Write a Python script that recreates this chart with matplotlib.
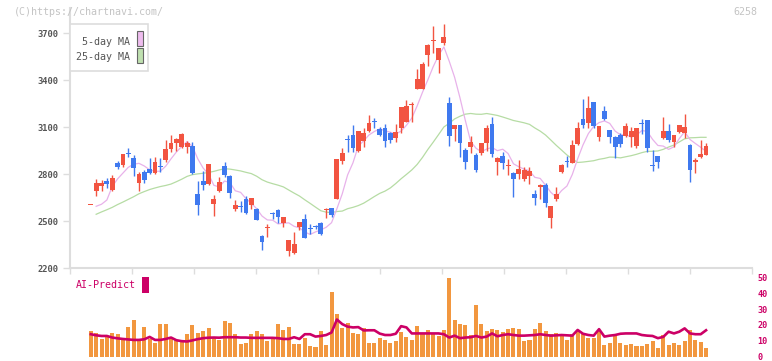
import numpy as np
import pandas as pd
import matplotlib
matplotlib.use("Agg")
import matplotlib.pyplot as plt
from matplotlib.patches import Rectangle

# ---------------- data ----------------
opens = [2600, 2693, 2721, 2755, 2698, 2872, 2859, 2934, 2902, 2744,
         2813, 2832, 2808, 2851, 2889, 2960, 3000, 2974, 2970, 2979,
         2672, 2755, 2736, 2608, 2691, 2851, 2787, 2575, 2596, 2640,
         2602, 2577, 2404, 2458, 2549, 2570, 2489, 2311, 2294, 2460,
         2513, 2455, 2468, 2489, 2570, 2583, 2642, 2883, 3023, 3049,
         2947, 3013, 3074, 3134, 3087, 3092, 3064, 3028, 3096, 3134,
         3238, 3344, 3343, 3560, 3649, 3528, 3638, 3251, 3087, 3113,
         2953, 2974, 2921, 2932, 2996, 3117, 2879, 2917, 2853, 2808,
         2800, 2768, 2789, 2672, 2715, 2732, 2521, 2640, 2811, 2881,
         2872, 2989, 3151, 3128, 3258, 3038, 3202, 3081, 3038, 3049,
         3045, 3038, 2981, 3126, 3145, 2853, 2915, 3032, 3074, 3006,
         3070, 3060, 2985, 2879, 2911, 2921]
highs = [2602, 2768, 2760, 2776, 2792, 2885, 2930, 2968, 2921, 2815,
         2826, 2902, 2908, 2902, 3017, 3049, 3028, 3062, 3010, 3004,
         2755, 2819, 2866, 2666, 2781, 2877, 2794, 2634, 2628, 2660,
         2647, 2583, 2411, 2481, 2558, 2579, 2528, 2381, 2430, 2496,
         2545, 2479, 2474, 2496, 2581, 2583, 2898, 2964, 3049, 3113,
         3077, 3092, 3177, 3156, 3102, 3119, 3070, 3119, 3228, 3272,
         3262, 3470, 3513, 3628, 3745, 3604, 3757, 3294, 3115, 3115,
         2968, 3043, 2936, 2998, 3113, 3166, 2906, 2943, 2894, 2815,
         2889, 2847, 2847, 2698, 2734, 2740, 2598, 2715, 2864, 2915,
         3017, 3134, 3279, 3298, 3260, 3108, 3234, 3083, 3040, 3064,
         3124, 3102, 3096, 3151, 3147, 2953, 2917, 3166, 3119, 3051,
         3115, 3183, 2991, 2900, 3017, 2996]
lows = [2600, 2661, 2693, 2711, 2691, 2830, 2847, 2906, 2787, 2693,
        2744, 2800, 2800, 2813, 2879, 2938, 2949, 2968, 2934, 2798,
        2538, 2698, 2730, 2532, 2685, 2781, 2649, 2566, 2557, 2545,
        2577, 2506, 2315, 2400, 2510, 2489, 2464, 2279, 2289, 2443,
        2394, 2417, 2452, 2411, 2517, 2528, 2640, 2864, 2938, 2938,
        2940, 2974, 3068, 3092, 3043, 2974, 3000, 3002, 3060, 3130,
        3134, 3340, 3340, 3489, 3570, 3447, 3623, 2979, 3013, 2911,
        2834, 2936, 2815, 2921, 2945, 2911, 2794, 2832, 2794, 2655,
        2768, 2757, 2736, 2602, 2640, 2591, 2457, 2630, 2804, 2843,
        2870, 2985, 3092, 3092, 3096, 3013, 3145, 3000, 2904, 2970,
        3038, 2970, 2964, 3055, 2943, 2821, 2840, 3023, 3004, 2970,
        3060, 3028, 2751, 2804, 2904, 2919]
closes = [2602, 2744, 2742, 2738, 2774, 2847, 2928, 2926, 2840, 2800,
          2762, 2806, 2877, 2845, 2960, 2998, 3023, 3055, 2998, 2805,
          2602, 2730, 2864, 2640, 2749, 2794, 2681, 2602, 2589, 2549,
          2647, 2506, 2368, 2464, 2542, 2528, 2528, 2379, 2353, 2494,
          2394, 2451, 2460, 2417, 2579, 2540, 2896, 2936, 3019, 2966,
          3074, 3064, 3124, 3130, 3049, 3013, 3017, 3066, 3226, 3234,
          3242, 3406, 3502, 3623, 3653, 3602, 3677, 3044, 3113, 3000,
          2879, 3006, 2826, 2996, 3092, 2928, 2904, 2872, 2857, 2766,
          2834, 2826, 2819, 2649, 2732, 2617, 2596, 2670, 2857, 2877,
          2985, 3096, 3113, 3219, 3108, 3106, 3149, 3034, 2974, 2991,
          3106, 3074, 3094, 3122, 2968, 2849, 2879, 3074, 3017, 3049,
          3113, 3098, 2826, 2889, 2928, 2979]

# moving-average values visible at the start of the chart (window reaches before the data)
ma5_head = [np.nan, 2594, 2607, 2634]
ma25_head = [np.nan, 2543, 2558, 2572, 2587, 2605, 2621, 2638, 2655, 2674,
             2688, 2701, 2711, 2720, 2727, 2736, 2751, 2767, 2785, 2796,
             2801, 2805, 2810, 2817]

volume = [16.1, 14.7, 11.1, 12.4, 14.7, 14.1, 10.7, 18.4, 23.4, 10.7,
          18.4, 11.1, 8.4, 20.3, 20.3, 11.6, 10.5, 9.1, 14.1, 19.7,
          14.7, 16.1, 17.8, 12.4, 10.3, 22.4, 20.9, 14.1, 7.8, 8.4,
          14.1, 16.1, 14.1, 9.9, 11.6, 20.3, 16.8, 18.9, 7.8, 7.8,
          11.6, 6.6, 6.1, 16.1, 7.4, 41.1, 26.6, 17.8, 20.9, 14.7,
          14.1, 17.8, 8.4, 8.4, 11.6, 10.5, 8.4, 9.9, 15.3, 12.6,
          10.3, 19.1, 14.7, 16.6, 14.7, 12.8, 16.6, 49.7, 22.8, 20.7,
          20.1, 13.4, 32.8, 20.3, 15.9, 17.2, 16.6, 15.3, 17.2, 17.8,
          17.2, 9.9, 10.5, 17.2, 20.9, 15.9, 14.1, 14.7, 14.1, 10.3,
          14.1, 16.6, 14.7, 11.6, 11.6, 16.6, 7.2, 8.4, 13.4, 8.4,
          7.2, 7.8, 6.6, 6.6, 7.8, 9.7, 5.3, 13.4, 7.2, 8.4,
          7.2, 9.7, 16.6, 10.3, 9.1, 5.3]
ai_predict = [14.1, 13.4, 13.0, 13.0, 12.0, 11.5, 11.1, 10.8, 10.5, 10.5,
              10.9, 12.4, 10.5, 10.5, 11.1, 12.0, 10.3, 9.7, 9.5, 10.2,
              11.0, 11.6, 11.9, 12.0, 11.9, 12.2, 12.2, 12.2, 12.0, 12.0,
              11.8, 11.8, 11.8, 11.8, 11.8, 11.6, 11.1, 11.1, 12.2, 11.1,
              14.1, 14.1, 12.6, 13.0, 13.6, 15.2, 23.4, 20.5, 18.9, 18.4,
              18.6, 16.5, 16.6, 16.6, 14.5, 13.6, 13.6, 14.4, 19.2, 18.4,
              14.6, 14.6, 14.6, 14.6, 14.6, 14.6, 14.1, 12.0, 13.2, 11.6,
              12.0, 12.2, 13.0, 12.0, 12.6, 14.6, 12.8, 13.6, 14.1, 13.6,
              13.2, 13.2, 13.4, 13.6, 14.1, 13.6, 13.2, 13.4, 13.6, 13.4,
              13.2, 16.8, 14.4, 13.6, 13.2, 17.3, 12.6, 13.2, 13.6, 14.4,
              14.6, 14.6, 14.6, 13.6, 13.2, 13.0, 11.6, 12.4, 15.7, 14.6,
              15.7, 17.8, 14.6, 14.1, 14.1, 16.6]

date_labels = ["2/25", "3/11", "3/26", "4/9", "4/23", "5/13",
               "5/27", "6/10", "6/24", "7/8", "7/23"]
date_pos = [15, 25, 35, 45, 55, 65, 75, 85, 95, 105, 115]
price_ticks = [2200, 2500, 2800, 3100, 3400, 3700]
ai_ticks = [0, 10, 20, 30, 40, 50]

# ---------------- style ----------------
UP = "#f25441"
DOWN = "#3f79ef"
MA5_C = "#e8b2ea"
MA25_C = "#b6dca4"
VOL_C = "#f2973f"
AI_C = "#cc0066"
GRID_C = "#dddddd"
TXT_C = "#555555"
MONO = "DejaVu Sans Mono"

W, H = 772, 361
fig = plt.figure(figsize=(W / 100, H / 100), dpi=100)
fig.patch.set_facecolor("white")

n = len(closes)
x = np.arange(n)
o = np.array(opens, float)
c = np.array(closes, float)
hi = np.array(highs, float)
lo = np.array(lows, float)

cl = pd.Series(c)
ma5 = cl.rolling(5).mean().to_numpy()
ma5[:len(ma5_head)] = ma5_head
ma25 = cl.rolling(25).mean().to_numpy()
ma25[:len(ma25_head)] = ma25_head

XL = (-3.89, 123.59)

# ---------------- main price axes ----------------
ax = fig.add_axes([70 / W, 1 - 268 / H, 682 / W, 260 / H])
ax.set_xlim(*XL)
ax.set_ylim(2200, 3860)

ax.plot(x, ma25, color=MA25_C, lw=0.9, zorder=1)
ax.plot(x, ma5, color=MA5_C, lw=0.9, zorder=1)

up = c >= o
cols = np.where(up, UP, DOWN)
ax.vlines(x, lo, hi, colors=cols, lw=1.0, zorder=2)
body_bottom = np.minimum(o, c)
body_h = np.maximum(np.abs(c - o), 6.5)
ax.bar(x, body_h, bottom=body_bottom, width=0.9, color=cols, lw=0, zorder=3)

for s in ["top", "right"]:
    ax.spines[s].set_visible(False)
for s in ["left", "bottom"]:
    ax.spines[s].set_color(GRID_C)
    ax.spines[s].set_linewidth(1.5)

ax.set_yticks(price_ticks)
ax.set_yticklabels([str(t) for t in price_ticks], fontsize=6.3,
                   family=MONO, color=TXT_C, fontweight="bold")
ax.tick_params(axis="y", length=5, width=1, color=GRID_C, pad=3)

ax.set_xticks(date_pos)
ax.set_xticklabels(date_labels, fontsize=6.3, family=MONO, color=TXT_C)
ax.tick_params(axis="x", which="major", length=0, pad=8.5)
ax.set_xticks(np.linspace(XL[0], XL[1], 12), minor=True)
ax.tick_params(axis="x", which="minor", length=4, width=1, color=GRID_C)

# legend box
fig.patches.append(Rectangle((70 / W, 1 - 71 / H), 78 / W, 47 / H,
                             transform=fig.transFigure, facecolor="white",
                             edgecolor=GRID_C, lw=1.2, zorder=5))
fig.text(130 / W, 1 - 42 / H, "5-day MA", ha="right", va="center",
         fontsize=7.2, family=MONO, color=TXT_C, zorder=6)
fig.text(130 / W, 1 - 57 / H, "25-day MA", ha="right", va="center",
         fontsize=7.2, family=MONO, color=TXT_C, zorder=6)
fig.patches.append(Rectangle((136.5 / W, 1 - 46 / H), 6 / W, 15 / H,
                             transform=fig.transFigure, facecolor="#eebcee",
                             edgecolor="#666666", lw=0.8, zorder=6))
fig.patches.append(Rectangle((136.5 / W, 1 - 63 / H), 6 / W, 15 / H,
                             transform=fig.transFigure, facecolor="#bfe0b0",
                             edgecolor="#666666", lw=0.8, zorder=6))

# header texts
fig.text(14 / W, 1 - 12 / H, "(C)https://chartnavi.com/", ha="left",
         va="center", fontsize=7.2, family=MONO, color="#c4c4c4")
fig.text(757 / W, 1 - 12 / H, "6258", ha="right", va="center",
         fontsize=7.2, family=MONO, color="#c4c4c4")

# ---------------- lower AI-Predict axes ----------------
ax2 = fig.add_axes([70 / W, 1 - 356.5 / H, 682 / W, 79 / H])
ax2.set_xlim(*XL)
ax2.set_ylim(0, 50)
ax2.bar(x, volume, width=0.75, color=VOL_C, lw=0, zorder=1)
ax2.plot(x, ai_predict, color=AI_C, lw=1.9, zorder=2)
for s in ax2.spines.values():
    s.set_visible(False)
ax2.set_xticks([])
ax2.yaxis.tick_right()
ax2.set_yticks(ai_ticks)
ax2.set_yticklabels([str(t) for t in ai_ticks], fontsize=6.1, family=MONO,
                    color=AI_C, fontweight="bold")
ax2.tick_params(axis="y", length=0, pad=4)

fig.text(76 / W, 1 - 285 / H, "AI-Predict", ha="left", va="center",
         fontsize=7.2, family=MONO, color=AI_C)
fig.patches.append(Rectangle((142 / W, 1 - 293 / H), 7 / W, 16 / H,
                             transform=fig.transFigure, facecolor=AI_C,
                             edgecolor="none"))

fig.savefig("out.png", dpi=100, facecolor="white")
